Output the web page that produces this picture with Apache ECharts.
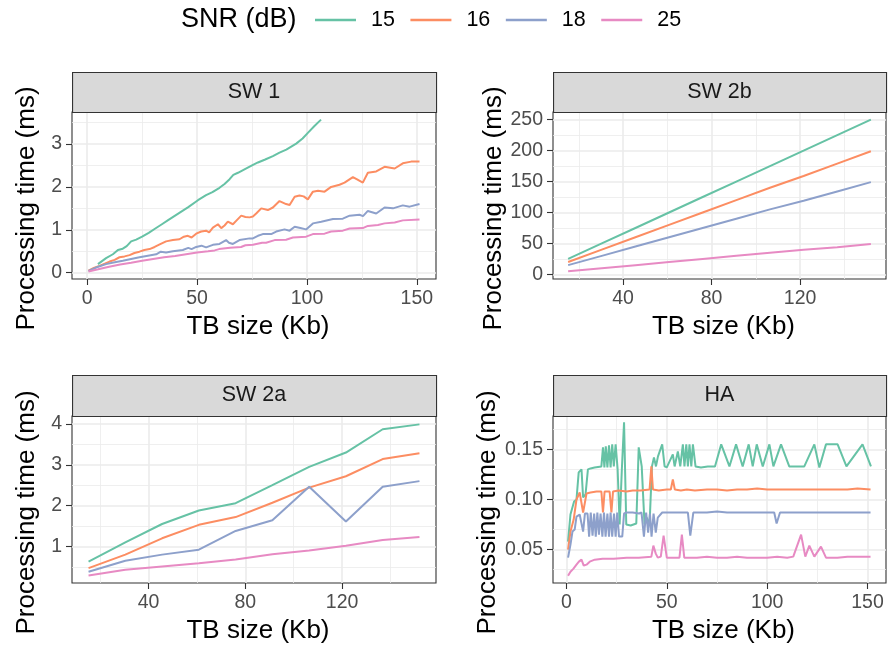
<!DOCTYPE html>
<html><head><meta charset="utf-8">
<script src="https://cdn.jsdelivr.net/npm/echarts@6/dist/echarts.min.js"></script>
<style>html,body{margin:0;padding:0;background:#fff}#c{width:889px;height:648px}</style>
</head><body><div id="c"></div>
<script>
const FONT = "'Liberation Sans', Arial, sans-serif";
const snrLevels = ['15', '16', '18', '25'];
const colors = ['#66c2a5', '#fc8d62', '#8da0cb', '#e78ac3'];
const panelTitles = ['SW 1', 'SW 2b', 'SW 2a', 'HA'];

// ---- SW 1 : [TB size, time]
const sw1_15 = [[4.9,0.20],[8.6,0.34],[11.7,0.43],[14.0,0.53],[16.2,0.56],[18,0.62],[20.0,0.73],[22.3,0.77],[25,0.84],[28,0.93],[31,1.03],[34,1.13],[37,1.23],[40,1.33],[43,1.43],[46,1.53],[50.4,1.69],[54.1,1.81],[57,1.88],[60.2,1.98],[62.5,2.07],[64.8,2.18],[66.5,2.28],[68.6,2.33],[72,2.42],[75,2.50],[77.7,2.57],[81,2.64],[84.5,2.72],[87.5,2.80],[90.6,2.87],[95.1,3.01],[98,3.13],[100.4,3.26],[103.4,3.42],[106.4,3.57]];
const sw1_16 = [[0.6,0.05],[3,0.11],[5.6,0.16],[8,0.21],[10.2,0.26],[12.5,0.30],[14.7,0.36],[17,0.38],[19.3,0.41],[21.5,0.46],[23.8,0.49],[26,0.53],[28.4,0.55],[30.7,0.60],[33,0.66],[35.9,0.73],[39.0,0.76],[42.0,0.78],[44,0.84],[45.8,0.86],[47.5,0.82],[49.6,0.91],[51.9,0.96],[54.1,0.98],[55.5,0.94],[57.2,1.05],[59.5,1.13],[61.0,1.04],[62.5,1.10],[64.0,1.19],[66.3,1.13],[68,1.22],[70.1,1.33],[72,1.30],[73.9,1.29],[75.4,1.31],[76.9,1.38],[79.2,1.50],[82.2,1.46],[84.5,1.52],[87.5,1.67],[90.5,1.60],[92.1,1.58],[94.4,1.77],[96.6,1.80],[98.5,1.78],[100.4,1.71],[102.7,1.89],[105,1.91],[108,1.89],[111,2.00],[114.8,2.05],[117.1,2.10],[120.9,2.23],[123,2.17],[125.4,2.10],[127.7,2.33],[131.5,2.36],[135.3,2.47],[139.9,2.43],[143.6,2.55],[147.4,2.59],[151.2,2.59]];
const sw1_18 = [[0.6,0.04],[4,0.12],[8.6,0.20],[12,0.24],[16.2,0.28],[20,0.32],[23.8,0.36],[27,0.39],[31.4,0.43],[33.5,0.49],[35.9,0.47],[39,0.50],[43.5,0.53],[46,0.58],[47.5,0.55],[49.6,0.60],[52,0.63],[54.1,0.59],[57.2,0.65],[60.2,0.67],[63.2,0.76],[64.5,0.70],[66.3,0.67],[69.3,0.76],[73.9,0.80],[75.4,0.80],[77.7,0.86],[79.9,0.90],[83.7,0.90],[86.0,0.96],[89.8,1.01],[92.1,0.98],[94.4,1.07],[97,1.04],[99.6,1.01],[102.7,1.15],[106.5,1.19],[111.8,1.25],[116.3,1.26],[119.4,1.33],[123.9,1.35],[125.5,1.32],[127.7,1.44],[131.5,1.38],[135.3,1.52],[139.1,1.50],[143.6,1.57],[146.7,1.54],[151.2,1.60]];
const sw1_25 = [[0.6,0.03],[5,0.08],[10,0.14],[15,0.19],[20,0.23],[25,0.28],[30,0.32],[35,0.36],[40,0.39],[45,0.43],[50,0.47],[55,0.50],[58,0.52],[60,0.55],[65,0.58],[70,0.60],[72,0.64],[75.4,0.65],[79.6,0.70],[81.4,0.70],[85.3,0.76],[90.5,0.77],[93.6,0.82],[99.6,0.84],[102.7,0.90],[108,0.91],[111,0.96],[116.3,0.98],[119.4,1.03],[125.4,1.04],[127.7,1.09],[132.3,1.11],[135.3,1.15],[139.9,1.17],[143.6,1.22],[151.2,1.24]];

// ---- SW 2b / SW 2a : shared TB sizes
const sw2Sizes = [15.2, 30.4, 45.6, 60.8, 76, 91.2, 106.4, 121.6, 136.8, 152];
const sw2b_15 = [25, 50, 75, 100, 125, 150, 175, 200, 225, 250];
const sw2b_16 = [20, 40, 60, 80, 100, 120, 140, 159, 179, 199];
const sw2b_18 = [15, 30, 45, 60, 75, 90, 105, 119, 134, 149];
const sw2b_25 = [5, 10, 15, 20, 25, 30, 35, 40, 44, 49];
const sw2a_15 = [0.63, 1.10, 1.55, 1.88, 2.06, 2.50, 2.95, 3.30, 3.87, 3.99];
const sw2a_16 = [0.47, 0.80, 1.20, 1.53, 1.72, 2.07, 2.44, 2.72, 3.14, 3.28];
const sw2a_18 = [0.38, 0.65, 0.80, 0.92, 1.38, 1.64, 2.46, 1.61, 2.46, 2.60];
const sw2a_25 = [0.29, 0.43, 0.51, 0.59, 0.68, 0.81, 0.90, 1.02, 1.16, 1.23];

// ---- HA : [TB size, time]
const ha_15 = [[0.8,0.058],[2,0.085],[3.8,0.098],[5,0.100],[6.1,0.127],[7.5,0.130],[8.3,0.102],[9.5,0.105],[10.7,0.130],[12,0.131],[14,0.132],[17.4,0.133],[18.2,0.152],[18.9,0.132],[19.6,0.153],[20.4,0.132],[21.2,0.154],[22,0.132],[22.8,0.155],[23.6,0.133],[24.5,0.155],[25.5,0.130],[26.5,0.075],[27.6,0.130],[28.7,0.177],[29.8,0.075],[32,0.074],[34.8,0.076],[36,0.152],[37.5,0.133],[38.9,0.075],[40,0.082],[41.4,0.075],[42.6,0.133],[43.6,0.142],[44.6,0.133],[45.6,0.143],[46.4,0.142],[47.7,0.155],[48.9,0.133],[50,0.132],[53,0.145],[53.9,0.133],[55.5,0.148],[56.7,0.133],[58,0.155],[58.8,0.133],[59.7,0.155],[60.5,0.133],[61.3,0.155],[62.2,0.133],[63,0.155],[64.3,0.133],[67,0.132],[70.4,0.133],[74,0.133],[77.1,0.155],[81.2,0.133],[84.5,0.155],[87.8,0.133],[90.8,0.155],[92.8,0.133],[94.8,0.155],[97.8,0.133],[101.1,0.155],[103.1,0.133],[106.9,0.155],[111,0.133],[118.5,0.133],[123.5,0.155],[126,0.132],[129.3,0.155],[135.1,0.155],[139.5,0.133],[147.5,0.155],[151.7,0.133]];
const ha_16 = [[0.8,0.050],[2,0.068],[3.6,0.080],[5,0.100],[6.6,0.107],[7.5,0.108],[8.3,0.087],[9.2,0.087],[10,0.106],[12,0.107],[15,0.108],[17.4,0.108],[18.2,0.087],[19,0.108],[21.5,0.108],[22.4,0.087],[23.2,0.108],[26,0.109],[30,0.108],[33,0.109],[37,0.109],[41.4,0.110],[42.3,0.133],[43.1,0.110],[46,0.109],[50,0.110],[52,0.110],[53,0.120],[54,0.110],[57,0.109],[60,0.110],[64,0.109],[70,0.110],[75,0.110],[80,0.109],[85,0.110],[90,0.110],[95,0.111],[100,0.110],[110,0.110],[120,0.110],[130,0.110],[140,0.110],[145,0.111],[151.5,0.110]];
const ha_18 = [[0.8,0.042],[2,0.055],[3,0.068],[4.1,0.070],[5,0.083],[6.6,0.085],[7.5,0.085],[8.3,0.068],[9.2,0.086],[10.5,0.086],[11.3,0.063],[12.1,0.087],[13,0.064],[13.8,0.086],[14.6,0.063],[15.4,0.087],[16.2,0.065],[17,0.086],[17.9,0.063],[18.7,0.087],[19.5,0.063],[20.4,0.086],[21.2,0.063],[22,0.087],[22.8,0.063],[23.7,0.086],[24.5,0.063],[25.3,0.087],[26.2,0.063],[27.8,0.063],[28.7,0.086],[30,0.087],[33,0.087],[36.2,0.086],[37.4,0.087],[38.6,0.063],[39.7,0.087],[40.7,0.067],[41.6,0.086],[42.4,0.063],[43.4,0.086],[44.5,0.067],[45.5,0.082],[46.4,0.082],[47.7,0.087],[50,0.087],[55,0.087],[60.5,0.087],[61.7,0.064],[63.2,0.087],[70,0.087],[75,0.088],[80,0.087],[90,0.087],[100,0.087],[103.5,0.087],[104.7,0.076],[106.4,0.087],[115,0.087],[125,0.087],[135,0.087],[145,0.087],[151.5,0.087]];
const ha_25 = [[0.8,0.024],[2,0.028],[3.5,0.031],[5,0.035],[6.2,0.038],[7.5,0.040],[8.6,0.034],[10,0.035],[11.6,0.038],[14.1,0.040],[18,0.041],[23.5,0.041],[30,0.042],[36,0.042],[42.3,0.043],[43.3,0.054],[44.5,0.046],[45.5,0.042],[47,0.043],[48.4,0.064],[50,0.042],[53,0.042],[56.3,0.042],[57.5,0.065],[58.7,0.042],[65,0.042],[70,0.043],[75,0.042],[80,0.042],[85,0.043],[90,0.042],[95,0.042],[100,0.042],[105,0.043],[110,0.042],[113,0.043],[116.9,0.065],[119,0.043],[121,0.054],[123.5,0.043],[126.8,0.053],[129.3,0.042],[135,0.042],[140,0.043],[145,0.043],[151.5,0.043]];

// ---- tick values
const sw1XTicks = [0, 50, 100, 150], sw1XMinor = [25, 75, 125];
const sw1YTicks = [0, 1, 2, 3], sw1YMinor = [0.5, 1.5, 2.5, 3.5];
const sw2XTicks = [40, 80, 120], sw2XMinor = [20, 60, 100, 140];
const sw2bYTicks = [0, 50, 100, 150, 200, 250], sw2bYMinor = [25, 75, 125, 175, 225];
const sw2aYTicks = [1, 2, 3, 4], sw2aYMinor = [0.5, 1.5, 2.5, 3.5];
const haXTicks = [0, 50, 100, 150], haXMinor = [25, 75, 125];
const haYTicks = [0.05, 0.10, 0.15], haYMinor = [0.025, 0.075, 0.125, 0.175];

// ---- layout
const grids = [
  {left: 72, top: 112, width: 364, height: 167},
  {left: 553, top: 112, width: 333, height: 167},
  {left: 72, top: 416, width: 364, height: 167},
  {left: 553, top: 416, width: 333, height: 167}
];
const stripTops = [72, 72, 375, 375];
const stripH = [40, 40, 41, 41];

const panels = [
  {xr: [-6.9, 158.7], yr: [-0.147, 3.747], xt: sw1XTicks, xm: sw1XMinor, yt: sw1YTicks, ym: sw1YMinor, yGap: 32, yfmt: v => String(v),
   series: [sw1_15, sw1_16, sw1_18, sw1_25]},
  {xr: [8.36, 158.84], yr: [-7.4, 262.3], xt: sw2XTicks, xm: sw2XMinor, yt: sw2bYTicks, ym: sw2bYMinor, yGap: 41, yfmt: v => String(v),
   series: [sw2b_15, sw2b_16, sw2b_18, sw2b_25].map(a => a.map((v, i) => [sw2Sizes[i], v]))},
  {xr: [8.36, 158.84], yr: [0.105, 4.195], xt: sw2XTicks, xm: sw2XMinor, yt: sw2aYTicks, ym: sw2aYMinor, yGap: 32, yfmt: v => String(v),
   series: [sw2a_15, sw2a_16, sw2a_18, sw2a_25].map(a => a.map((v, i) => [sw2Sizes[i], v]))},
  {xr: [-6.7, 159.2], yr: [0.0167, 0.1833], xt: haXTicks, xm: haXMinor, yt: haYTicks, ym: haYMinor, yGap: 41, yfmt: v => v.toFixed(2),
   series: [ha_15, ha_16, ha_18, ha_25]}
];

const xAxes = [], yAxes = [], series = [], graphics = [];
panels.forEach((p, gi) => {
  xAxes.push({
    type: 'value', gridIndex: gi, min: p.xr[0], max: p.xr[1],
    axisLine: {show: false, onZero: false},
    splitLine: {show: false},
    axisTick: {show: true, customValues: p.xt, length: 6, lineStyle: {color: '#333333', width: 1.1}},
    axisLabel: {customValues: p.xt, color: '#4d4d4d', fontSize: 19.5, fontFamily: FONT, margin: 10},
    name: 'TB size (Kb)', nameLocation: 'middle', nameGap: 35,
    nameTextStyle: {fontSize: 26, color: '#000', fontFamily: FONT, padding: [0, 0, 0, 8]}
  });
  yAxes.push({
    type: 'value', gridIndex: gi, min: p.yr[0], max: p.yr[1],
    axisLine: {show: false, onZero: false},
    splitLine: {show: false},
    axisTick: {show: true, customValues: p.yt, length: 6, lineStyle: {color: '#333333', width: 1.1}},
    axisLabel: {customValues: p.yt, color: '#4d4d4d', fontSize: 19.5, fontFamily: FONT, margin: 10, formatter: p.yfmt},
    name: 'Processing time (ms)', nameLocation: 'middle', nameGap: p.yGap,
    nameTextStyle: {fontSize: 26, color: '#000', fontFamily: FONT, padding: [0, 26, 0, 0]}
  });
  const ml = [];
  p.xm.forEach(v => ml.push({xAxis: v, lineStyle: {width: 0.8, color: '#ebebeb', type: 'solid'}}));
  p.ym.forEach(v => ml.push({yAxis: v, lineStyle: {width: 0.8, color: '#ebebeb', type: 'solid'}}));
  p.xt.forEach(v => ml.push({xAxis: v, lineStyle: {width: 1.6, color: '#ebebeb', type: 'solid'}}));
  p.yt.forEach(v => ml.push({yAxis: v, lineStyle: {width: 1.6, color: '#ebebeb', type: 'solid'}}));
  series.push({
    type: 'line', name: '_grid' + gi, xAxisIndex: gi, yAxisIndex: gi, data: [], silent: true, z: 1,
    markLine: {silent: true, symbol: ['none', 'none'], label: {show: false}, animation: false, z: 1, data: ml}
  });
  p.series.forEach((d, si) => {
    series.push({
      type: 'line', name: snrLevels[si], xAxisIndex: gi, yAxisIndex: gi, data: d,
      showSymbol: false, symbol: 'none', z: 10, clip: true,
      lineStyle: {width: 2, color: colors[si]}, itemStyle: {color: colors[si]}
    });
  });
  const g = grids[gi];
  graphics.push({
    type: 'rect', left: g.left, top: stripTops[gi], z: 50,
    shape: {width: g.width, height: stripH[gi]},
    style: {fill: '#d9d9d9', stroke: '#333333', lineWidth: 1.1}
  });
  graphics.push({
    type: 'text', x: g.left + g.width / 2, y: stripTops[gi] + stripH[gi] / 2, z: 51,
    style: {text: panelTitles[gi], fill: '#1a1a1a', font: '21.5px ' + FONT, textAlign: 'center', textVerticalAlign: 'middle'}
  });
});

graphics.push({
  type: 'text', x: 181, y: 20, z: 51,
  style: {text: 'SNR (dB)', fill: '#000', font: '27px ' + FONT, textAlign: 'left', textVerticalAlign: 'middle'}
});

const chart = echarts.init(document.getElementById('c'), null, {renderer: 'canvas'});
chart.setOption({
  animation: false,
  backgroundColor: '#ffffff',
  color: colors,
  textStyle: {fontFamily: FONT},
  grid: grids.map(g => Object.assign({show: true, borderColor: '#333333', borderWidth: 1.1, backgroundColor: '#ffffff', containLabel: false}, g)),
  xAxis: xAxes,
  yAxis: yAxes,
  legend: {
    data: snrLevels, left: 315, top: 9, padding: 0, orient: 'horizontal',
    icon: 'rect', itemWidth: 41, itemHeight: 2.5, itemGap: 15.5,
    textStyle: {fontSize: 21.5, color: '#000', fontFamily: FONT, padding: [0, 0, 0, 10]},
    selectedMode: false
  },
  series: series,
  graphic: graphics
});
</script>
</body></html>
